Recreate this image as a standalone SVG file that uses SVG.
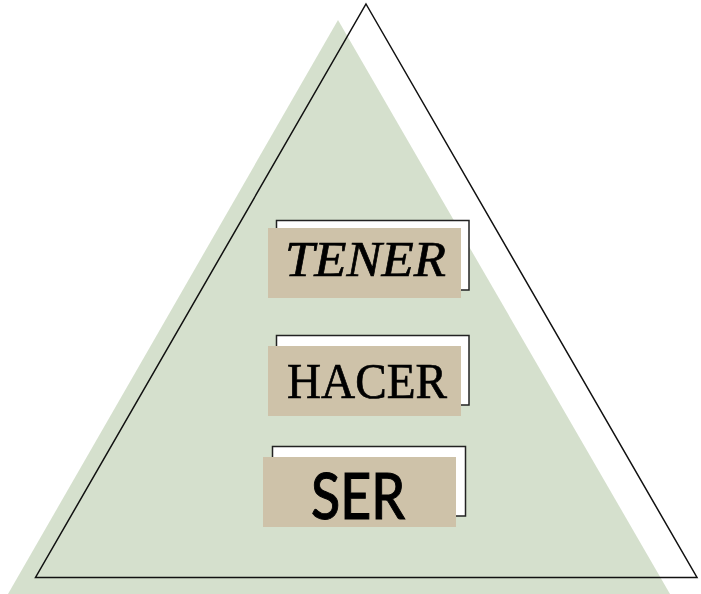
<svg xmlns="http://www.w3.org/2000/svg" width="701" height="594" viewBox="0 0 701 594">
<style>
.frame{fill:#fff;stroke:#222;stroke-width:1.5}
.box{fill:#cec2a9}
.serif{font-family:"Liberation Serif","Times New Roman",serif;font-size:50px;fill:#000;stroke:#000;stroke-width:.7}
.sans{font-family:"Lato","Liberation Sans",sans-serif;font-size:64px;font-weight:500;fill:#000;stroke:#000;stroke-width:1}
</style>
<rect width="701" height="594" fill="#fff"/>
<polygon id="green-triangle" points="338,20 670,594 8,594" fill="#d5e0cd"/>
<polygon id="outline-triangle" points="366,4 697,577.5 35.5,577.5" fill="none" stroke="#111" stroke-width="1.5" stroke-linejoin="miter"/>
<g id="node-tener">
<rect class="frame" x="276.5" y="220.5" width="192.5" height="69.5"/>
<rect class="box" x="268" y="228" width="193" height="70"/>
<text class="serif" x="285" y="276" font-style="italic" textLength="161" lengthAdjust="spacingAndGlyphs">TENER</text>
</g>
<g id="node-hacer">
<rect class="frame" x="276.5" y="335.5" width="192.5" height="69.5"/>
<rect class="box" x="268" y="346" width="193" height="70"/>
<text class="serif" x="287" y="398" textLength="160" lengthAdjust="spacingAndGlyphs">HACER</text>
</g>
<g id="node-ser">
<rect class="frame" x="272.5" y="446.5" width="193" height="69.5"/>
<rect class="box" x="263" y="457" width="193" height="70"/>
<text class="sans" x="311" y="519" textLength="94" lengthAdjust="spacingAndGlyphs">SER</text>
</g>
<g id="connectors"></g>
</svg>
